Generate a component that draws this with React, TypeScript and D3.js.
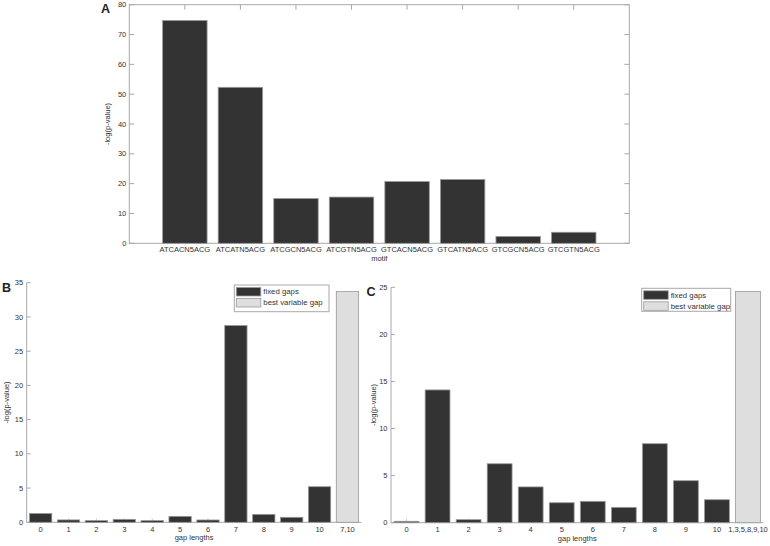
import React from "react";
import * as d3 from "d3";

const motifs = ["ATCACN5ACG", "ATCATN5ACG", "ATCGCN5ACG", "ATCGTN5ACG", "GTCACN5ACG", "GTCATN5ACG", "GTCGCN5ACG", "GTCGTN5ACG"];
const motifValues = [74.7, 52.3, 15.0, 15.5, 20.7, 21.4, 2.3, 3.7];
const motifYTicks = [0, 10, 20, 30, 40, 50, 60, 70, 80];

const gapLabelsB = ["0", "1", "2", "3", "4", "5", "6", "7", "8", "9", "10", "7,10"];
const fixedB = [1.3, 0.35, 0.25, 0.43, 0.25, 0.87, 0.34, 28.75, 1.16, 0.73, 5.2];
const variableB = 33.7;
const yTicksB = [0, 5, 10, 15, 20, 25, 30, 35];

const gapLabelsC = ["0", "1", "2", "3", "4", "5", "6", "7", "8", "9", "10", "1,3,5,8,9,10"];
const fixedC = [0.15, 14.1, 0.32, 6.26, 3.8, 2.12, 2.27, 1.63, 8.39, 4.46, 2.44];
const variableC = 24.56;
const yTicksC = [0, 5, 10, 15, 20, 25];

const legendLabels = ["fixed gaps", "best variable gap"];

const FONT = "'Liberation Sans', Arial, sans-serif";
const AXIS = "#a8a8a8";
const TEXT = "#333";
const DARK = "#333333";
const LIGHT = "#dedede";
const OUTLINE = "#9a9a9a";

function PanelA() {
  const x = d3.scaleLinear().domain([0, 9]).range([129.3, 629.3]);
  const y = d3.scaleLinear().domain([0, 80]).range([243.3, 4.7]);
  const [x0, x1] = x.range();
  const [y0, y1] = y.range();
  const bw = (x(0.8) - x(0));
  return (
    <g>
      <rect x={x0} y={y1} width={x1 - x0} height={y0 - y1} fill="none" stroke={AXIS} strokeWidth={1} />
      {motifYTicks.map((t) => (
        <g key={t}>
          <line x1={x0} x2={x0 + 5} y1={y(t)} y2={y(t)} stroke={AXIS} />
          <line x1={x1} x2={x1 - 5} y1={y(t)} y2={y(t)} stroke={AXIS} />
          <text x={x0 - 3} y={y(t)} dy="0.35em" textAnchor="end" fontSize={7.5} fill={TEXT}>{t}</text>
        </g>
      ))}
      {motifs.map((m, i) => (
        <g key={m}>
          <line x1={x(i + 1)} x2={x(i + 1)} y1={y1} y2={y1 + 5} stroke={AXIS} />
          <text x={x(i + 1)} y={y0 + 9} textAnchor="middle" fontSize={7.5} fill={TEXT}>{m}</text>
        </g>
      ))}
      {motifValues.map((v, i) => (
        <rect key={i} x={x(i + 1) - bw / 2} y={y(v)} width={bw} height={y(0) - y(v)} fill={DARK} stroke={OUTLINE} strokeWidth={0.8} />
      ))}
      <text x={(x0 + x1) / 2} y={261} textAnchor="middle" fontSize={7.5} fill={TEXT}>motif</text>
      <text transform={`translate(110,${(y0 + y1) / 2}) rotate(-90)`} textAnchor="middle" fontSize={7.5} fill={TEXT}>-log(p-value)</text>
      <text x={101} y={13} fontSize={12.5} fontWeight="bold" fill="#222">A</text>
    </g>
  );
}

type GapProps = {
  labels: string[];
  fixed: number[];
  variable: number;
  yTicks: number[];
  xRange: [number, number];
  yRange: [number, number];
  yMax: number;
  letter: string;
  letterX: number;
  yLabelX: number;
  legend: { x: number; y: number; w: number; h: number };
};

function GapPanel(p: GapProps) {
  const x = d3.scaleLinear().domain([-0.5, p.labels.length - 0.5]).range(p.xRange);
  const y = d3.scaleLinear().domain([0, p.yMax]).range(p.yRange);
  const [x0, x1] = x.range();
  const [y0, y1] = y.range();
  const bw = x(0.8) - x(0);
  const L = p.legend;
  return (
    <g>
      <line x1={x0} x2={x0} y1={y0} y2={y1} stroke={AXIS} />
      <line x1={x0} x2={x1} y1={y0} y2={y0} stroke={AXIS} />
      {p.yTicks.map((t) => (
        <g key={t}>
          <line x1={x0} x2={x0 + 4} y1={y(t)} y2={y(t)} stroke={AXIS} />
          <text x={x0 - 3.5} y={y(t)} dy="0.35em" textAnchor="end" fontSize={7.5} fill={TEXT}>{t}</text>
        </g>
      ))}
      {p.labels.map((l, i) => (
        <g key={l}>
          <line x1={x(i)} x2={x(i)} y1={y0} y2={y0 - 4} stroke="#cfcfcf" />
          <text x={x(i)} y={y0 + 9.5} textAnchor="middle" fontSize={7.5} fill={TEXT}>{l}</text>
        </g>
      ))}
      {p.fixed.map((v, i) => (
        <rect key={i} x={x(i) - bw / 2} y={y(v)} width={bw} height={y(0) - y(v)} fill={DARK} stroke={OUTLINE} strokeWidth={0.8} />
      ))}
      <rect x={x(p.fixed.length) - bw / 2} y={y(p.variable)} width={bw} height={y(0) - y(p.variable)} fill={LIGHT} stroke={OUTLINE} strokeWidth={0.8} />
      <text x={(x0 + x1) / 2} y={y0 + 18} textAnchor="middle" fontSize={7.5} fill={TEXT}>gap lengths</text>
      <text transform={`translate(${p.yLabelX},${(y0 + y1) / 2}) rotate(-90)`} textAnchor="middle" fontSize={7.5} fill={TEXT}>-log(p-value)</text>
      <text x={p.letterX} y={y1 + 9} fontSize={12.5} fontWeight="bold" fill="#222">{p.letter}</text>
      <g>
        <rect x={L.x} y={L.y} width={L.w} height={L.h} fill="#fff" stroke={AXIS} />
        {legendLabels.map((lab, i) => (
          <g key={lab}>
            <rect x={L.x + 2} y={L.y + 2.5 + i * 11} width={24.5} height={8.5} fill={i === 0 ? DARK : LIGHT} stroke={OUTLINE} strokeWidth={0.8} />
            <text x={L.x + 29} y={L.y + 6.75 + i * 11} dy="0.35em" fontSize={7.8} fill={TEXT}>{lab}</text>
          </g>
        ))}
      </g>
    </g>
  );
}

export default function App() {
  return (
    <svg width={770} height={546} style={{ position: "absolute", left: 0, top: 0, background: "#fff" }} fontFamily={FONT}>
      <rect x={0} y={0} width={770} height={546} fill="#fff" />
      <PanelA />
      <GapPanel
        labels={gapLabelsB}
        fixed={fixedB}
        variable={variableB}
        yTicks={yTicksB}
        xRange={[26.7, 361.4]}
        yRange={[522.3, 282.7]}
        yMax={35}
        letter="B"
        letterX={2}
        yLabelX={9}
        legend={{ x: 234.3, y: 285, w: 94.7, h: 26.7 }}
      />
      <GapPanel
        labels={gapLabelsC}
        fixed={fixedC}
        variable={variableC}
        yTicks={yTicksC}
        xRange={[391, 763.5]}
        yRange={[522.7, 287.3]}
        yMax={25}
        letter="C"
        letterX={366.5}
        yLabelX={376}
        legend={{ x: 641.7, y: 288.3, w: 89, h: 23 }}
      />
    </svg>
  );
}
